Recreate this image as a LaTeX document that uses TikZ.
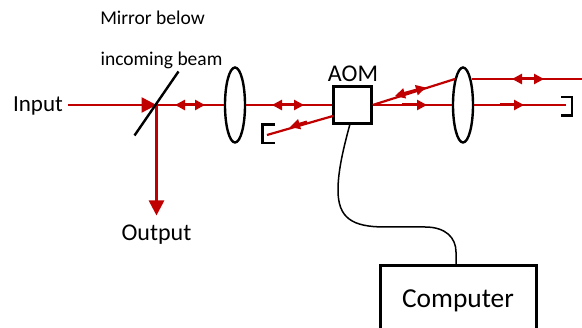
\documentclass[tikz,border=0pt]{standalone}
\usepackage{fontspec}
\setmainfont{Carlito}
\usetikzlibrary{positioning, arrows.meta, shapes.geometric}
\definecolor{beamred}{RGB}{192,0,0}
\tikzset{
  beam/.style={draw=beamred, line width=2.2pt},
  bigbeam/.style={draw=beamred, line width=2.6pt, -{Triangle[length=15pt, width=15pt]}},
  onetip/.style={draw=beamred, line width=3pt, -{Triangle[length=10pt, width=10pt]}},
  twotip/.style={draw=beamred, line width=3pt, {Triangle[length=10pt, width=10pt]}-{Triangle[length=10pt, width=10pt]}},
  lens/.style={draw, ellipse, line width=2.4pt, minimum width=20pt, minimum height=75pt, inner sep=0pt},
  box/.style={draw, line width=2.4pt, inner sep=0pt},
  dump/.style={line width=2.4pt},
  txt/.style={inner sep=0pt, anchor=base}
}
\begin{document}
\begin{tikzpicture}[x=1pt, y=-1pt, thick]
  \useasboundingbox (0,0) rectangle (582,328);
  % labels
  \node[txt, font=\fontsize{19.5}{20}\selectfont] (mirrorA) at (152.5,25) {Mirror below};
  \node[txt, font=\fontsize{19.5}{20}\selectfont] (mirrorB) at (161.5,66) {incoming beam};
  \node[txt, font=\fontsize{23}{24}\selectfont] (input) at (38,112) {Input};
  \node[txt, font=\fontsize{24}{24}\selectfont] (output) at (156.5,241) {Output};
  \node[txt, font=\fontsize{24}{24}\selectfont] (aomlabel) at (353,82) {AOM};
  % optics
  \coordinate (mirror) at (156.5,105);
  \coordinate (mirrorlo) at (134.5,135.5);
  \coordinate (mirrorhi) at (178.5,71.5);
  \node[lens] (lensA) at (235,105) {};
  \node[lens] (lensB) at (463,105) {};
  \node[box, minimum width=38pt, minimum height=37pt] (aom) at (352.5,105) {};
  \node[box, minimum width=156pt, minimum height=70pt] (computer) at (458.5,300.5) {};
  \node[txt, font=\fontsize{27.4}{28}\selectfont] (computerlabel) at (458,308) {Computer};
  % beams
  \coordinate (inputend) at (68,105);
  \coordinate (outend) at (156.5,215.5);
  \coordinate (aomlo) at (333,116);
  \coordinate (dumpL) at (267,135);
  \coordinate (dumpR) at (566,105);
  \coordinate (exit) at (582,79);
  \coordinate (lensBhi) at (455,79);
  \coordinate (lensBout) at (472,79);
  \draw[bigbeam] (inputend) -- (mirror);
  \draw[bigbeam] (mirror) -- (outend);
  \draw[beam] (mirror) -- (lensA.west);
  \draw[beam] (lensA.east) -- (aom.west);
  \draw[beam] (aomlo) -- (dumpL);
  \draw[beam] (aom.east) -- (lensBhi);
  \draw[beam] (aom.east) -- (lensB.west);
  \draw[beam] (lensBout) -- (exit);
  \draw[beam] (lensB.east) -- (dumpR);
  % arrow tips on the beams
  \draw[twotip] (175,105) -- (205,105);
  \draw[twotip] (272,105) -- (304,105);
  \draw[onetip] (307,122) -- (290,127);
  \draw[twotip] (395,96) -- (426,87.5);
  \draw[onetip] (402,105) -- (427,105);
  \draw[onetip] (500,105) -- (524,105);
  \draw[twotip] (512,79) -- (544,79);
  % mirror drawn over the beam
  \draw[line width=2.4pt] (mirrorlo) -- (mirrorhi);
  % beam dumps
  \draw[dump] (275,124.5) -- (262.5,124.5) -- (262.5,143) -- (275,143);
  \draw[dump] (561,97) -- (572,97) -- (572,115.5) -- (561,115.5);
  % cable
  \draw[line width=1.5pt] (350,124) .. controls (344,146) and (338,170) .. (338,190)
    .. controls (338,218) and (352,227) .. (385,227) -- (425,227)
    .. controls (446,227) and (456,238) .. (456,252) -- (456,265);
\end{tikzpicture}
\end{document}
